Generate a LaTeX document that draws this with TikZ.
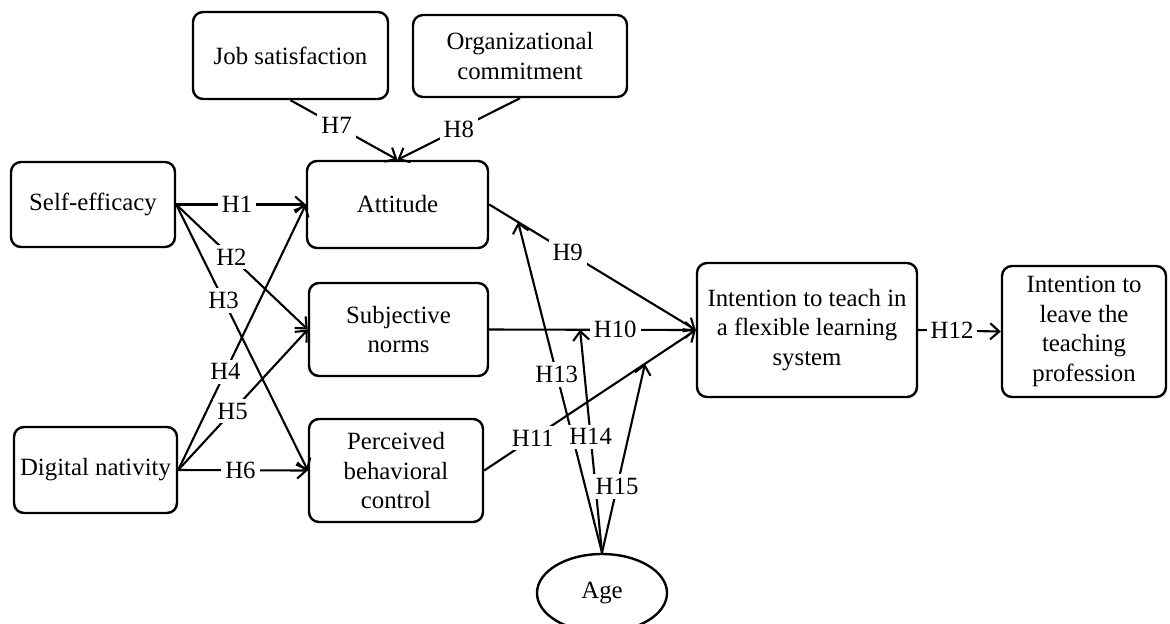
\documentclass[tikz,border=0pt]{standalone}
\usepackage{fontspec}
\setmainfont{Liberation Serif}
\usetikzlibrary{arrows.meta,shapes.geometric}

\begin{document}
\begin{tikzpicture}[x=0.5pt,y=-0.5pt,->,>={Straight Barb[length=4.5pt,width=8pt]},
                    line width=1.05pt,font=\fontsize{12.4}{14.7}\selectfont]
  \tikzstyle{construct}=[rectangle,rounded corners=5pt,draw=black,fill=white,
                         align=center,inner sep=2pt,line width=1.2pt]
  \tikzstyle{hyp}=[fill=white,inner sep=2pt]

  \clip (0,0) rectangle (1170,623);

  \node[construct,minimum width=97.5pt,minimum height=43.5pt] (job)  at (290.5,55.5) {Job satisfaction};
  \node[construct,minimum width=107pt,minimum height=41pt]    (org)  at (520,56)     {Organizational\\commitment};
  \node[construct,minimum width=82pt,minimum height=42.5pt]   (self) at (93,204.5)   {Self-efficacy};
  \node[construct,minimum width=81.5pt,minimum height=43pt]   (dig)  at (95.5,470)   {Digital nativity};
  \node[construct,minimum width=90.5pt,minimum height=43.5pt] (att)  at (397.5,204.5) {Attitude};
  \node[construct,minimum width=89.5pt,minimum height=46.5pt] (subj) at (398.5,329.5) {Subjective\\norms};
  \node[construct,minimum width=87pt,minimum height=51.5pt]   (perc) at (396,470.5)  {Perceived\\behavioral\\control};
  \node[construct,minimum width=110pt,minimum height=67pt]    (int)  at (807,330)    {Intention to teach in\\a flexible learning\\system};
  \node[construct,minimum width=82pt,minimum height=65.5pt]   (leave) at (1084,331.5) {Intention to\\leave the\\teaching\\profession};
  \node[ellipse,draw=black,line width=1.2pt,minimum width=65pt,minimum height=39pt] (age) at (602,593) {Age};

  \path (self.east) edge node[hyp,pos=0.47] {H1} (att.west)
        (self.east) edge node[hyp,pos=0.42] {H2} (subj.west)
        (self.east) edge node[hyp,pos=0.36] {H3} (perc.west)
        (dig.east)  edge node[hyp,pos=0.37] {H4} (att.west)
        (dig.east)  edge node[hyp,pos=0.42] {H5} (subj.west)
        (dig.east)  edge node[hyp,pos=0.48] {H6} (perc.west)
        (job.south) edge node[hyp,pos=0.43] {H7} (att.north)
        (org.south) edge node[hyp,pos=0.5]  {H8} (att.north)
        (att.east)  edge node[hyp,pos=0.38] {H9}  node[coordinate,pos=0.14] (m9) {}  (int.west)
        (subj.east) edge node[hyp,pos=0.61] {H10} node[coordinate,pos=0.44] (m10) {} (int.west)
        (perc.east) edge node[hyp,pos=0.23] {H11} node[coordinate,pos=0.76] (m11) {} (int.west)
        (int.east)  edge node[hyp,pos=0.41] {H12} (leave.west);

  \path (age.north) edge node[hyp,pos=0.54] {H13} (m9)
        (age.north) edge node[hyp,pos=0.52] {H14} (m10)
        (age.north) edge node[hyp,pos=0.35] {H15} (m11);
\end{tikzpicture}
\end{document}
